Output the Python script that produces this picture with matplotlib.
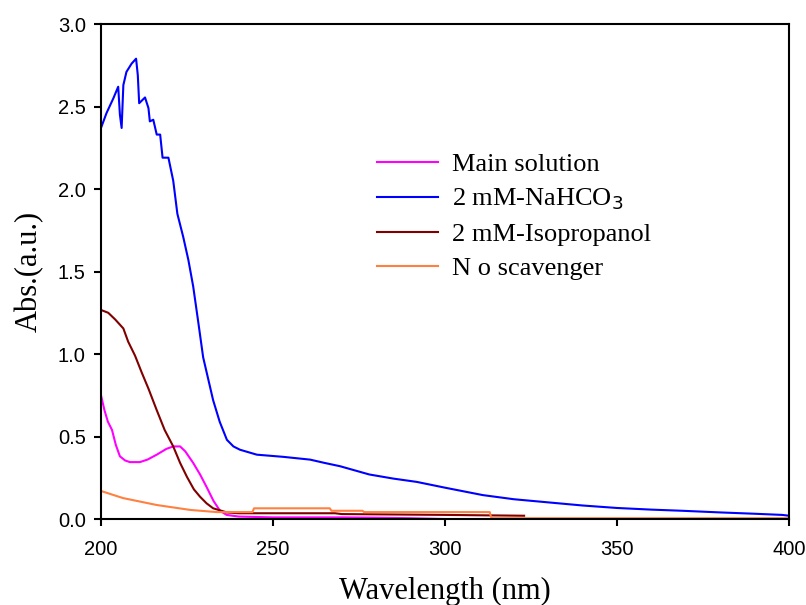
import matplotlib.pyplot as plt


# UV-Vis absorbance spectra for each scavenger run

main_wl = [200, 201, 202, 203.2, 204.3, 205.5, 207, 208.4, 211.3, 213.5,
           216.2, 219, 221, 223, 224.5, 226.8, 228.8, 230.8, 232.7, 234.6,
           236.5, 240, 250, 270, 280, 290, 300, 400]
main_abs = [0.75, 0.66, 0.59, 0.54, 0.45, 0.38, 0.355, 0.345, 0.345, 0.36,
            0.39, 0.425, 0.44, 0.44, 0.41, 0.34, 0.27, 0.19, 0.11, 0.05,
            0.025, 0.015, 0.01, 0.01, 0.008, 0.005, 0.0, 0.0]

nahco3_wl = [200, 201.6, 203.6, 205, 205.5, 206, 206.5, 207.4, 208.9, 210.2,
             210.7, 211.1, 212.8, 213.8, 214.2, 215.2, 216.2, 217.2, 217.9,
             219.6, 221, 222.2, 223.9, 225.4, 226.8, 228.3, 229.7, 232.6,
             234.5, 236.6, 238.5, 240.4, 245.3, 252.9, 260.8, 265, 269.5,
             278, 285, 291.8, 300, 311, 320, 330.5, 340, 350, 360, 369, 380,
             390, 398, 400]
nahco3_abs = [2.37, 2.46, 2.55, 2.62, 2.45, 2.37, 2.63, 2.71, 2.76, 2.79,
              2.69, 2.52, 2.555, 2.49, 2.41, 2.42, 2.33, 2.33, 2.19,
              2.19, 2.05, 1.85, 1.71, 1.57, 1.41, 1.19, 0.98, 0.72,
              0.59, 0.48, 0.44, 0.42, 0.39, 0.377, 0.36, 0.34, 0.32,
              0.27, 0.245, 0.225, 0.19, 0.145, 0.12, 0.10, 0.082, 0.067, 0.057,
              0.05, 0.04, 0.032, 0.025, 0.02]

iso_wl = [200, 202.1, 204.1, 206.5, 207.9, 209.9, 211.8, 213.8, 216.2, 218.5,
          221, 223, 225, 227, 228.8, 230.7, 232.6, 236.6, 240, 268, 270, 300,
          323]
iso_abs = [1.267, 1.25, 1.21, 1.155, 1.075, 0.99, 0.89, 0.79, 0.66, 0.54,
           0.44, 0.34, 0.255, 0.18, 0.135, 0.095, 0.065, 0.04, 0.035, 0.035,
           0.03, 0.025, 0.02]

none_wl = [200, 206.4, 216.2, 226, 233.7, 240, 244, 244.5, 266.5, 267, 276,
           276.5, 313, 313.5, 400]
none_abs = [0.17, 0.127, 0.085, 0.055, 0.042, 0.042, 0.042, 0.065, 0.065,
            0.05, 0.05, 0.042, 0.042, 0.005, 0.005]

labels = ["Main solution", "2 mM-NaHCO$_3$", "2 mM-Isopropanol", "N o scavenger"]
colors = ["#ff00ff", "#0000ff", "#800000", "#ff8040"]

x_ticks = [200, 250, 300, 350, 400]
y_ticks = [0.0, 0.5, 1.0, 1.5, 2.0, 2.5, 3.0]


fig = plt.figure(figsize=(8.06, 6.05), dpi=100)
ax = fig.add_axes([0.1253, 0.1421, 0.8536, 0.8182])

series = [
    (main_wl, main_abs),
    (nahco3_wl, nahco3_abs),
    (iso_wl, iso_abs),
    (none_wl, none_abs),
]

for (wl, ab), label, color in zip(series, labels, colors):
    ax.plot(wl, ab, color=color, linewidth=1.5, label=label)

ax.set_xlim(200, 400)
ax.set_ylim(0, 3.0)
ax.set_xticks(x_ticks)
ax.set_yticks(y_ticks)
ax.set_yticklabels([f"{v:.1f}" for v in y_ticks])

for spine in ax.spines.values():
    spine.set_linewidth(1.5)

ax.tick_params(direction="out", length=5, width=1.5, labelsize=14.5)
ax.tick_params(axis="x", pad=10)
ax.tick_params(axis="y", pad=6)
for lbl in ax.get_xticklabels() + ax.get_yticklabels():
    lbl.set_fontfamily("Liberation Sans")

ax.set_xlabel("Wavelength (nm)", family="Liberation Serif", fontsize=22,
              labelpad=13)
ax.set_ylabel("Abs.(a.u.)", family="Liberation Serif", fontsize=22,
              labelpad=10)

ax.legend(
    loc="upper left",
    bbox_to_anchor=(0.401, 0.74),
    frameon=False,
    borderpad=0,
    borderaxespad=0,
    handlelength=2.3,
    handletextpad=0.55,
    labelspacing=0.4,
    prop={"family": "Liberation Serif", "size": 19},
)

fig.savefig("out.png", dpi=100)
plt.close(fig)
